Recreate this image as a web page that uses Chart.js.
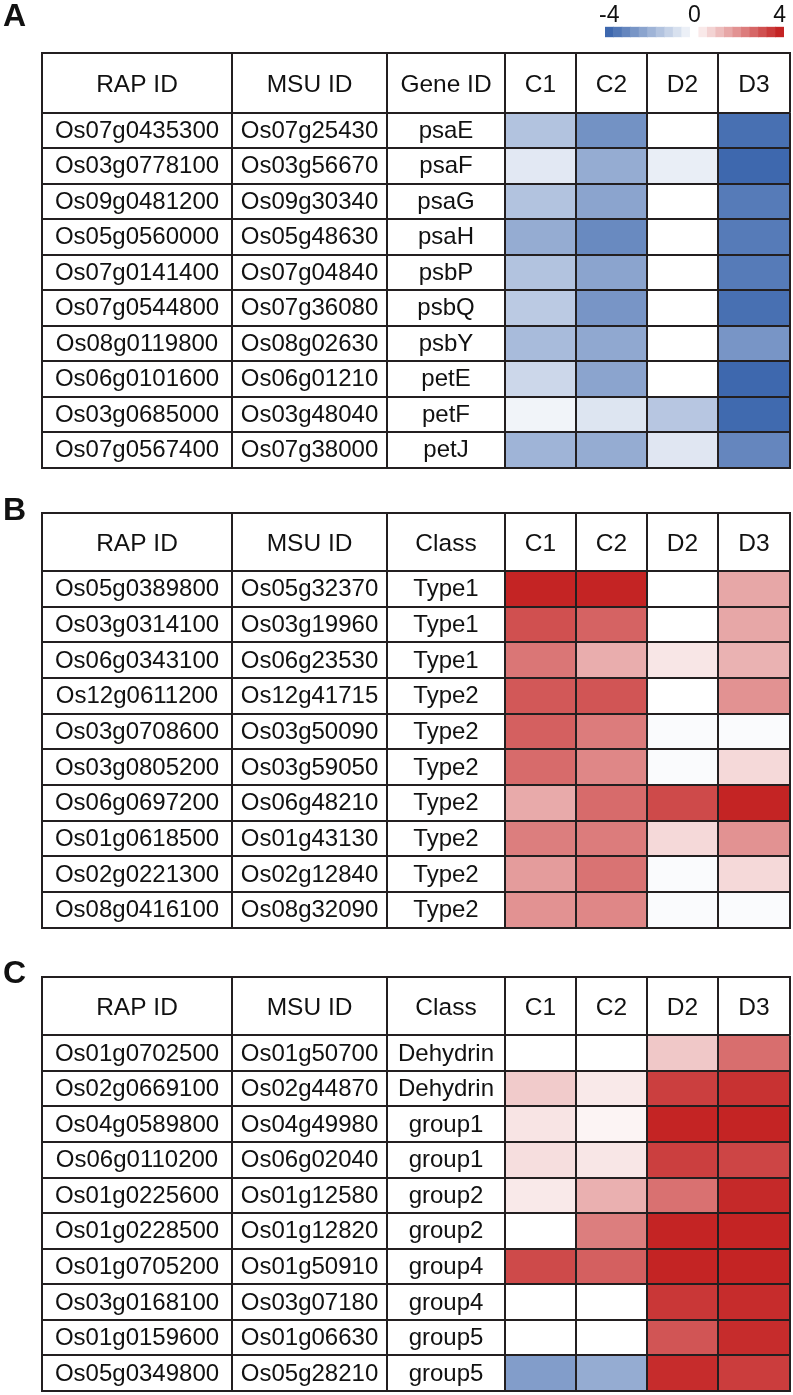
<!DOCTYPE html>
<html>
<head>
<meta charset="utf-8">
<script src="https://cdn.jsdelivr.net/npm/chart.js@4.4.1/dist/chart.umd.min.js"></script>
<style>
  body { margin: 0; background: #fff; }
  #page { position: relative; width: 793px; height: 1395px; }
  canvas { position: absolute; left: 0; }
</style>
</head>
<body>
<div id="page">
  <canvas id="legendBar" width="793" height="40" style="top:0"></canvas>
  <canvas id="panelA" width="793" height="472" style="top:0"></canvas>
  <canvas id="panelB" width="793" height="460" style="top:472px"></canvas>
  <canvas id="panelC" width="793" height="463" style="top:932px"></canvas>
</div>
<script>
// colour key
const legendSteps = [-4, -3.6, -3.2, -2.8, -2.4, -2, -1.6, -1.2, -0.8, -0.4, 0,
                     0.4, 0.8, 1.2, 1.6, 2, 2.4, 2.8, 3.2, 3.6, 4];
const legendTicks = [-4, 0, 4];
const conditions = ['C1', 'C2', 'D2', 'D3'];

// Panel A
const headersA = ['RAP ID', 'MSU ID', 'Gene ID', 'C1', 'C2', 'D2', 'D3'];
const rapA = ['Os07g0435300', 'Os03g0778100', 'Os09g0481200', 'Os05g0560000', 'Os07g0141400',
              'Os07g0544800', 'Os08g0119800', 'Os06g0101600', 'Os03g0685000', 'Os07g0567400'];
const msuA = ['Os07g25430', 'Os03g56670', 'Os09g30340', 'Os05g48630', 'Os07g04840',
              'Os07g36080', 'Os08g02630', 'Os06g01210', 'Os03g48040', 'Os07g38000'];
const geneA = ['psaE', 'psaF', 'psaG', 'psaH', 'psbP', 'psbQ', 'psbY', 'petE', 'petF', 'petJ'];
const c1A = [-1.6, -0.6, -1.6, -2.2, -1.6, -1.4, -1.8, -1.05, -0.3, -2.0];
const c2A = [-2.9, -2.2, -2.4, -3.1, -2.4, -2.8, -2.3, -2.4, -0.7, -2.2];
const d2A = [0, -0.45, 0, 0, 0, 0, 0, 0, -1.5, -0.65];
const d3A = [-3.8, -4, -3.5, -3.5, -3.5, -3.8, -2.8, -4, -3.95, -3.2];

// Panel B
const headersB = ['RAP ID', 'MSU ID', 'Class', 'C1', 'C2', 'D2', 'D3'];
const rapB = ['Os05g0389800', 'Os03g0314100', 'Os06g0343100', 'Os12g0611200', 'Os03g0708600',
              'Os03g0805200', 'Os06g0697200', 'Os01g0618500', 'Os02g0221300', 'Os08g0416100'];
const msuB = ['Os05g32370', 'Os03g19960', 'Os06g23530', 'Os12g41715', 'Os03g50090',
              'Os03g59050', 'Os06g48210', 'Os01g43130', 'Os02g12840', 'Os08g32090'];
const classB = ['Type1', 'Type1', 'Type1', 'Type2', 'Type2', 'Type2', 'Type2', 'Type2', 'Type2', 'Type2'];
const c1B = [4, 3.2, 2.5, 3.05, 2.9, 2.7, 1.55, 2.35, 1.8, 2.0];
const c2B = [4, 2.85, 1.5, 3.1, 2.4, 2.2, 2.7, 2.4, 2.55, 2.2];
const d2B = [0, 0, 0.45, 0, -0.1, -0.1, 3.3, 0.7, -0.1, -0.1];
const d3B = [1.6, 1.6, 1.4, 2.0, -0.1, 0.7, 4, 2.0, 0.7, -0.1];

// Panel C
const headersC = ['RAP ID', 'MSU ID', 'Class', 'C1', 'C2', 'D2', 'D3'];
const rapC = ['Os01g0702500', 'Os02g0669100', 'Os04g0589800', 'Os06g0110200', 'Os01g0225600',
              'Os01g0228500', 'Os01g0705200', 'Os03g0168100', 'Os01g0159600', 'Os05g0349800'];
const msuC = ['Os01g50700', 'Os02g44870', 'Os04g49980', 'Os06g02040', 'Os01g12580',
              'Os01g12820', 'Os01g50910', 'Os03g07180', 'Os01g06630', 'Os05g28210'];
const classC = ['Dehydrin', 'Dehydrin', 'group1', 'group1', 'group2', 'group2', 'group4', 'group4', 'group5', 'group5'];
const c1C = [0, 0.95, 0.5, 0.6, 0.4, 0, 3.3, 0, 0, -2.6];
const c2C = [0, 0.4, 0.2, 0.45, 1.45, 2.35, 2.9, 0, 0, -2.2];
const d2C = [1.0, 3.5, 4, 3.5, 2.6, 4, 4, 3.65, 3.1, 3.85];
const d3C = [2.65, 3.75, 4, 3.4, 3.9, 4, 4, 3.85, 3.85, 3.55];

// table column edges, in pixels from the table's left border
const colBounds = [0, 190, 345, 463, 534, 605, 676, 748];
const lineColor = '#231f20';
const font = '"Liberation Sans", Arial, Helvetica, sans-serif';

function heatColor(v) {
  const t = Math.min(Math.abs(v) / 4, 1);
  const end = v < 0 ? [62, 104, 174] : [196, 36, 36];
  const c = end.map(e => Math.round(255 + (e - 255) * t));
  return 'rgb(' + c.join(',') + ')';
}

// header row, text columns and the panel letter
const tableText = {
  id: 'tableText',
  afterDraw(chart, args, opts) {
    const { ctx, chartArea: area, scales: { x, y } } = chart;
    const px = v => Math.round(x.getPixelForValue(v));
    const mid = i => x.getPixelForValue((colBounds[i] + colBounds[i + 1]) / 2);
    const top = Math.round(area.top - opts.headerHeight);
    ctx.save();
    ctx.strokeStyle = lineColor;
    ctx.lineWidth = 2;
    ctx.beginPath();
    ctx.moveTo(px(colBounds[0]) - 1, top);
    ctx.lineTo(px(colBounds[colBounds.length - 1]) + 1, top);
    colBounds.forEach(b => {
      ctx.moveTo(px(b), top);
      ctx.lineTo(px(b), area.top);
    });
    ctx.stroke();

    ctx.fillStyle = '#111';
    ctx.textAlign = 'center';
    ctx.textBaseline = 'alphabetic';
    ctx.font = '24.5px ' + font;
    const headMid = (top + area.top) / 2;
    opts.headers.forEach((h, i) => ctx.fillText(h, mid(i), headMid + 9));

    ctx.font = '24px ' + font;
    opts.columns.forEach((col, c) => {
      col.forEach((s, r) => ctx.fillText(s, mid(c), y.getPixelForValue(r) + 7.5));
    });

    ctx.textAlign = 'left';
    ctx.font = 'bold 32px ' + font;
    ctx.fillText(opts.letter, 3, opts.letterBaseline);
    ctx.restore();
  }
};

function heatTable(id, o) {
  return new Chart(document.getElementById(id), {
    type: 'bar',
    data: {
      labels: o.columns[0],
      datasets: o.values.map((vals, i) => ({
        label: conditions[i],
        data: vals.map(() => [colBounds[3 + i], colBounds[4 + i]]),
        backgroundColor: vals.map(heatColor),
        grouped: false,
        barPercentage: 1,
        categoryPercentage: 1,
        borderWidth: 0
      }))
    },
    options: {
      indexAxis: 'y',
      responsive: false,
      animation: false,
      devicePixelRatio: 1,
      layout: { padding: o.padding },
      plugins: {
        legend: { display: false },
        tooltip: { enabled: false },
        tableText: {
          headers: o.headers,
          columns: o.columns,
          headerHeight: o.headerHeight,
          letter: o.letter,
          letterBaseline: o.letterBaseline
        }
      },
      scales: {
        x: {
          type: 'linear',
          min: colBounds[0],
          max: colBounds[colBounds.length - 1],
          afterBuildTicks: s => { s.ticks = colBounds.map(v => ({ value: v })); },
          ticks: { display: false },
          grid: { color: lineColor, lineWidth: 2, drawTicks: false, z: 1 },
          border: { color: lineColor, width: 2, z: 1 }
        },
        y: {
          ticks: { display: false },
          grid: { color: lineColor, lineWidth: 2, drawTicks: false, z: 1 },
          border: { color: lineColor, width: 2, z: 1 }
        }
      }
    },
    plugins: [tableText]
  });
}

// Colour key
const legendChart = new Chart(document.getElementById('legendBar'), {
  type: 'bar',
  data: {
    datasets: [{
      data: legendSteps.map(v => ({ x: v, y: 1 })),
      backgroundColor: legendSteps.map(heatColor),
      barPercentage: 1,
      categoryPercentage: 1,
      borderWidth: 0
    }]
  },
  options: {
    responsive: false,
    animation: false,
    devicePixelRatio: 1,
    layout: { padding: { left: 605, right: 9, top: 0, bottom: 2.7 } },
    plugins: { legend: { display: false }, tooltip: { enabled: false } },
    scales: {
      x: {
        type: 'linear',
        position: 'top',
        offset: false,
        min: -4.2,
        max: 4.2,
        afterBuildTicks: s => { s.ticks = legendTicks.map(v => ({ value: v })); },
        afterFit: s => { s.height = 26.7; },
        ticks: {
          padding: 0,
          color: '#111',
          font: { family: font, size: 23, lineHeight: 1 },
          callback: v => String(v)
        },
        grid: { display: false, drawTicks: false, offset: false },
        border: { display: false }
      },
      y: { display: false, min: 0, max: 1 }
    }
  }
});

const chartA = heatTable('panelA', {
  letter: 'A', letterBaseline: 26,
  headers: headersA,
  columns: [rapA, msuA, geneA],
  values: [c1A, c2A, d2A, d3A],
  headerHeight: 60,
  padding: { left: 42, right: 3, top: 112.7, bottom: 4.3 }
});

const chartB = heatTable('panelB', {
  letter: 'B', letterBaseline: 48,
  headers: headersB,
  columns: [rapB, msuB, classB],
  values: [c1B, c2B, d2B, d3B],
  headerHeight: 58.3,
  padding: { left: 42, right: 3, top: 99, bottom: 4.3 }
});

const chartC = heatTable('panelC', {
  letter: 'C', letterBaseline: 50.5,
  headers: headersC,
  columns: [rapC, msuC, classC],
  values: [c1C, c2C, d2C, d3C],
  headerHeight: 58.6,
  padding: { left: 42, right: 3, top: 103.3, bottom: 4 }
});
</script>
</body>
</html>
